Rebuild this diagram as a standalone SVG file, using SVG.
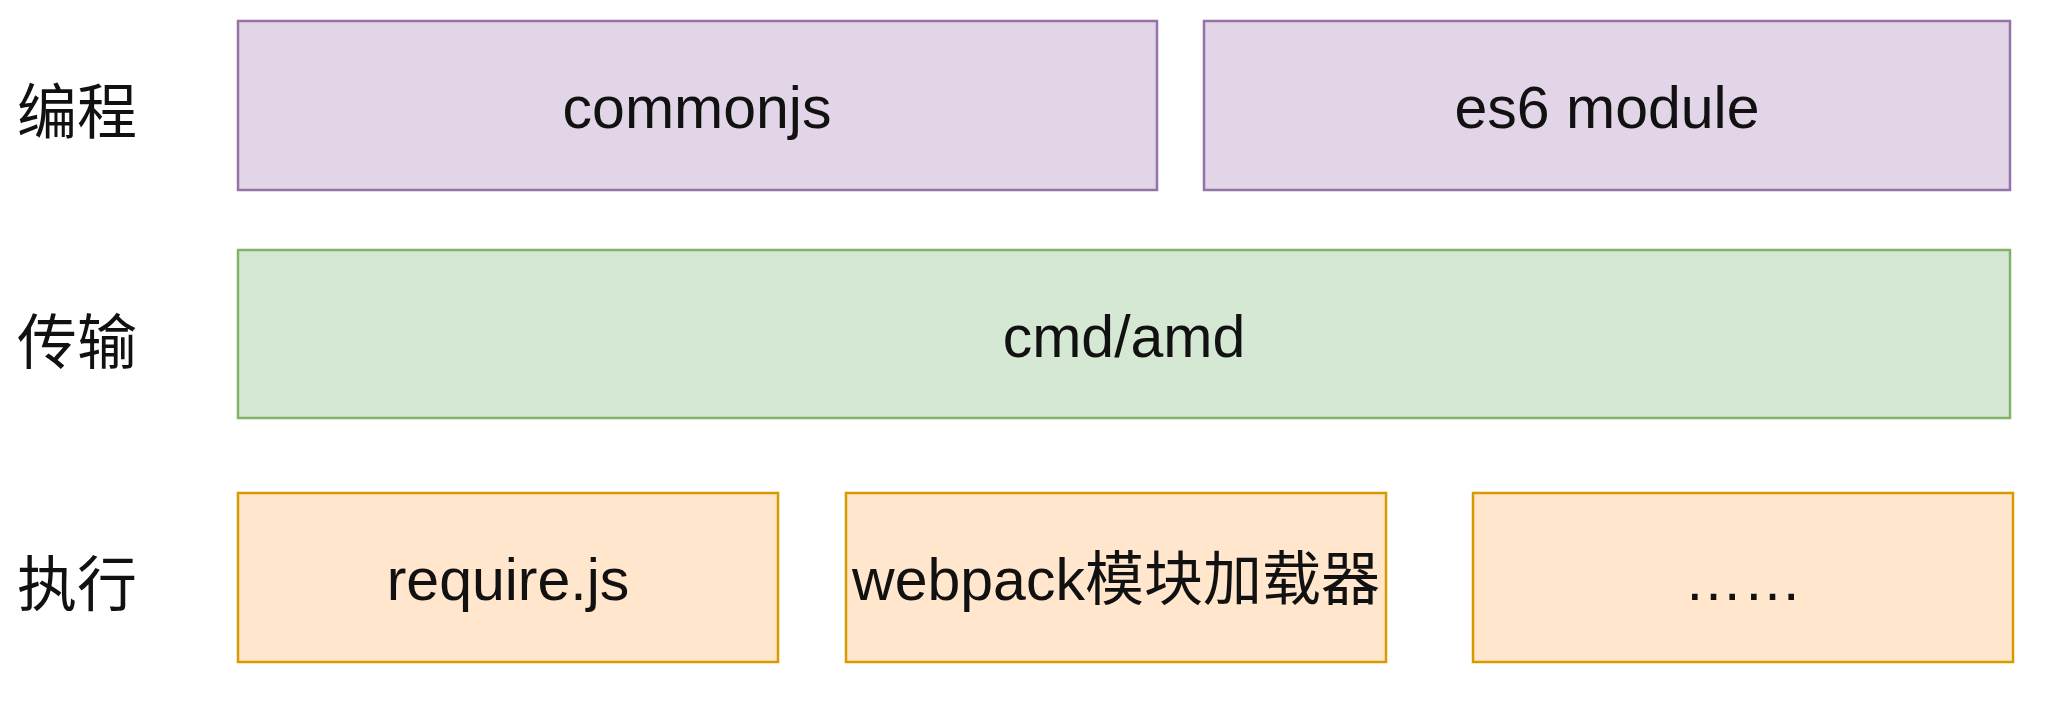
<svg xmlns="http://www.w3.org/2000/svg" width="2050" height="714" viewBox="0 0 2050 714">
<style>
text{font-family:"Liberation Sans","Noto Sans CJK SC",Arial,sans-serif;font-size:59px;fill:#111;text-anchor:middle;dominant-baseline:central}
.lbl{text-anchor:start;font-family:"Noto Sans CJK SC",sans-serif;font-size:60px}
.p{fill:#e1d5e7;stroke:#9673a6;stroke-width:2.5}
.g{fill:#d5e8d4;stroke:#82b366;stroke-width:2.5}
.o{fill:#ffe6cc;stroke:#d79b00;stroke-width:2.5}
</style>
<rect width="2050" height="714" fill="#ffffff"/>
<g id="labels">
<text class="lbl" x="17" y="107">编程</text>
<text class="lbl" x="17" y="337">传输</text>
<text class="lbl" x="17" y="579">执行</text>
</g>
<g id="commonjs"><rect class="p" x="238" y="21" width="919" height="169"/><text x="697" y="108">commonjs</text></g>
<g id="es6"><rect class="p" x="1204" y="21" width="806" height="169"/><text x="1607" y="108">es6 module</text></g>
<g id="cmdamd"><rect class="g" x="238" y="250" width="1772" height="168"/><text x="1124" y="337">cmd/amd</text></g>
<g id="requirejs"><rect class="o" x="238" y="493" width="540" height="169"/><text x="508" y="580">require.js</text></g>
<g id="webpack"><rect class="o" x="846" y="493" width="540" height="169"/><text x="1116" y="580">webpack模块加载器</text></g>
<g id="more"><rect class="o" x="1473" y="493" width="540" height="169"/><text x="1743" y="580">……</text></g>
<g id="connectors"></g>
</svg>
